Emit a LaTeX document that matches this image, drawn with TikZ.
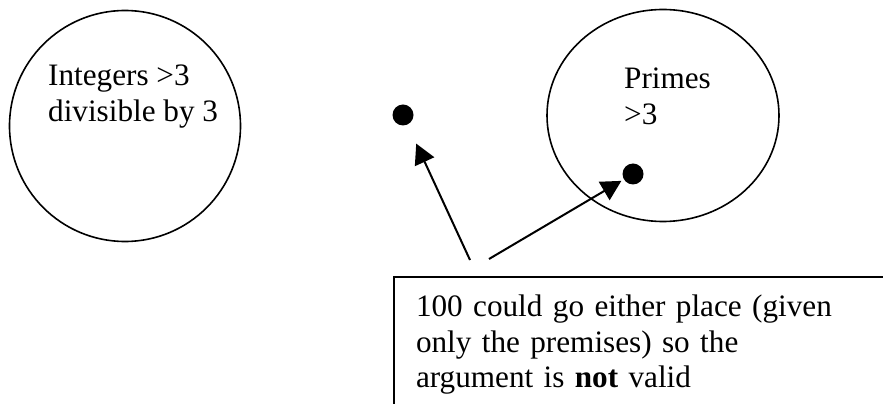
\documentclass[tikz,border=0pt]{standalone}
\usepackage{fontspec}
\setmainfont{Liberation Serif}
\usetikzlibrary{arrows.meta,positioning,shapes.geometric}
\tikzset{
	setshape/.style={
		draw,
		ellipse,
		line width=1.6pt,
		inner sep=0pt,
		outer sep=0pt
	},
	setlabel/.style={anchor=base west, align=left, inner sep=0pt, font=\fontsize{31.2}{36.5}\selectfont},
	elemdot/.style={circle, fill, inner sep=0pt, outer sep=0pt, minimum size=21pt},
	notebox/.style={
		draw,
		line width=2.6pt,
		anchor=north west,
		align=left,
		text width=470pt,
		inner xsep=22pt,
		inner ysep=18pt,
		outer sep=0pt,
		font=\fontsize{31.2}{35.5}\selectfont
	},
	parr/.style={-{Triangle[length=20pt, width=21pt]}, line width=2pt}
}

\begin{document}
\begin{tikzpicture}[x=1pt, y=1pt]
		\useasboundingbox (0,0) rectangle (883,404);
		\clip (0,0) rectangle (883,404);
		% the two sets
		\node[setshape, minimum width=231pt, minimum height=231pt] (divSet) at (125,278) {};
		\node[setshape, minimum width=232pt, minimum height=212pt] (primeSet) at (663,288.5) {};
		% labels sit on the baseline of their last line
		\node[setlabel] (divLabel) at (48,282) {Integers >3\\divisible by 3};
		\node[setlabel] (primeLabel) at (624,279) {Primes\\>3};
		% where 100 might be
		\node[elemdot] (dotOut) at (403,289) {};
		\node[elemdot] (dotIn) at (633,230) {};
		\node[notebox] (note) at (394,127) {100 could go either place (given\\only the premises) so the\\argument is \textbf{not} valid};
		\coordinate (tailA) at (470,144);
		\coordinate (tailB) at (489,145);
		\draw[parr, shorten >=21pt] (tailA) -- (dotOut);
		\draw[parr, shorten >=3pt] (tailB) -- (dotIn);
	\end{tikzpicture}
\end{document}
